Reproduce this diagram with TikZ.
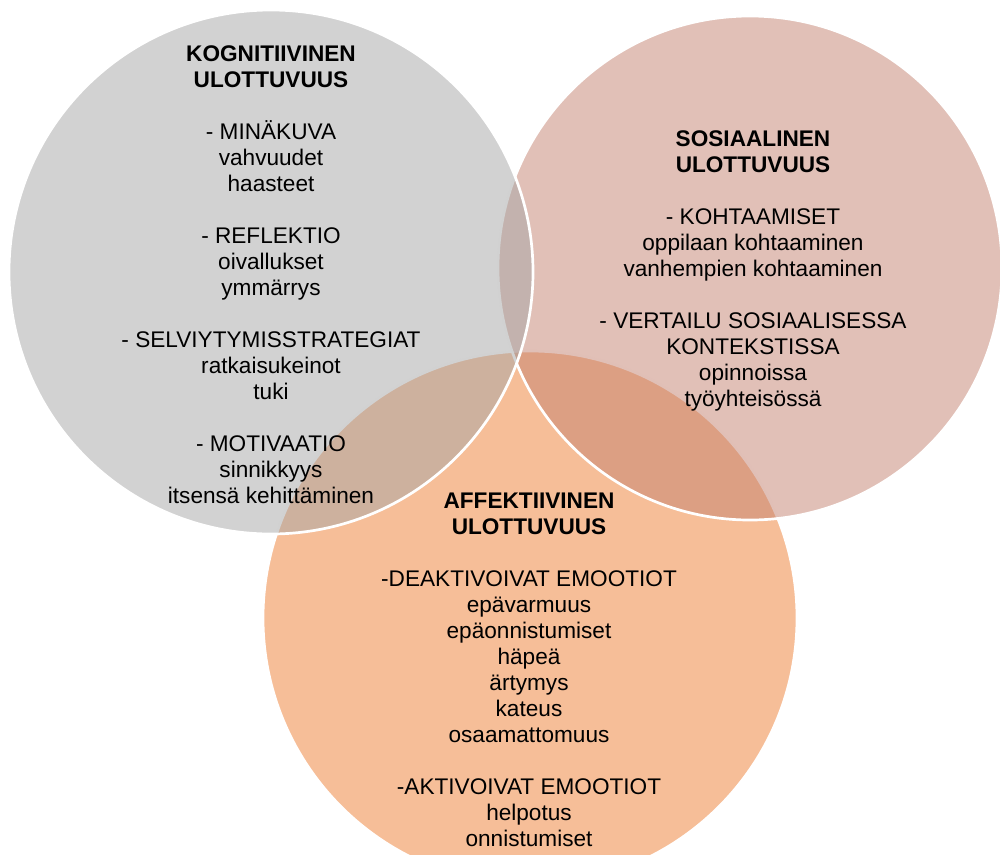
\documentclass[tikz,border=0pt]{standalone}
\usepackage{fontspec}
\setmainfont{Liberation Sans}
\usepackage{tikz}
\definecolor{Accent_Gray}{HTML}{A5A5A5}
\definecolor{Accent_Rose}{HTML}{C3816F}
\definecolor{Accent_Orange}{HTML}{ED7D31}
\tikzset{
  venn/.style={fill opacity=0.5, draw=white, line width=2.3pt},
  dimtext/.style={align=center, inner sep=0pt, anchor=north, text=black,
    font=\fontsize{19.3}{22.2}\selectfont},
}

\begin{document}
\begin{tikzpicture}[x=0.03cm, y=-0.03cm]
\useasboundingbox (0,0) rectangle (1000,854);
\clip (0,0) rectangle (1000,854);
% --- Circles (bottom to top) ---
\filldraw[venn, fill=Accent_Orange] (530,618) circle (267);
\filldraw[venn, fill=Accent_Rose] (750,268) circle (252);
\filldraw[venn, fill=Accent_Gray] (271,272) circle (262);
% --- Cognitive ---
\node[dimtext] (kogn) at (271,45) {\textbf{KOGNITIIVINEN}\\ \textbf{ULOTTUVUUS}\\[22.2pt]
  - MINÄKUVA\\ vahvuudet\\ haasteet\\[22.2pt]
  - REFLEKTIO\\ oivallukset\\ ymmärrys\\[22.2pt]
  - SELVIYTYMISSTRATEGIAT\\ ratkaisukeinot\\ tuki\\[22.2pt]
  - MOTIVAATIO\\ sinnikkyys\\ itsensä kehittäminen};
% --- Social ---
\node[dimtext] (sos) at (753,130) {\textbf{SOSIAALINEN}\\ \textbf{ULOTTUVUUS}\\[22.2pt]
  - KOHTAAMISET\\ oppilaan kohtaaminen\\ vanhempien kohtaaminen\\[22.2pt]
  - VERTAILU SOSIAALISESSA\\ KONTEKSTISSA\\ opinnoissa\\ työyhteisössä};
% --- Affective ---
\node[dimtext] (aff) at (529,493) {\textbf{AFFEKTIIVINEN}\\ \textbf{ULOTTUVUUS}\\[22.2pt]
  -DEAKTIVOIVAT EMOOTIOT\\ epävarmuus\\ epäonnistumiset\\ häpeä\\ ärtymys\\ kateus\\ osaamattomuus\\[22.2pt]
  -AKTIVOIVAT EMOOTIOT\\ helpotus\\ onnistumiset};
\end{tikzpicture}
\end{document}
